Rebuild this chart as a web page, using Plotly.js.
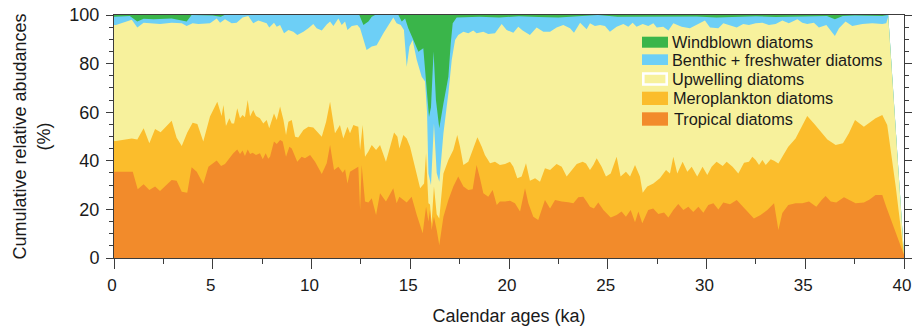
<!DOCTYPE html>
<html>
<head>
<meta charset="utf-8">
<script src="https://cdn.plot.ly/plotly-3.0.1.min.js"></script>
<style>html,body{margin:0;padding:0;background:#fff;}#chart{width:912px;height:332px;}</style>
</head>
<body>
<div id="chart"></div>
<script>
// Series names (legend order, top to bottom)
const seriesNames = ["Windblown diatoms", "Benthic + freshwater diatoms", "Upwelling diatoms", "Meroplankton diatoms", "Tropical diatoms"];
const seriesColors = ["#3AB54A", "#6DCFF6", "#F7F19C", "#FBBD2C", "#F28B2B"];

// Tick values / labels
const xTickVals = [0, 5, 10, 15, 20, 25, 30, 35, 40];
const xTickText = ["0", "5", "10", "15", "20", "25", "30", "35", "40"];
const yTickVals = [0, 20, 40, 60, 80, 100];
const yTickText = ["0", "20", "40", "60", "80", "100"];

// Cumulative upper boundary of each band (%), against calendar age (ka)
const ageWind = [0, 39.2, 40];
const cumWind = [100, 100, 1.2];

const ageBenthic = [0,0.8,1.18,1.5,2.0,2.92,3.68,3.93,5.0,5.4,5.6,12.35,12.42,12.63,12.88,13.05,13.22,14.4,14.57,14.74,14.9,15.16,15.41,15.66,15.83,15.95,16.05,16.18,16.3,16.47,16.68,16.93,17.05,17.15,17.35,18.5,19.5,20.5,21.5,22.5,23.5,24.5,25.5,26.5,27.5,28.5,29.5,30.5,31.5,32.5,33.5,34.5,35.5,36.1,36.5,36.9,37.5,38.5,38.9,39.2,40];
const cumBenthic = [99.3,99.6,97.3,98.5,98.3,98.6,97.3,100,99.8,99.3,100,100,100,95.9,97.3,99.3,100,100,97.3,98.6,94.5,89.7,84.9,86.3,67.8,58,62,85,65,53.4,63.6,74.6,88.3,96.6,99,99.3,99.0,99.5,99.2,99.0,99.5,100,99.3,99.3,99.5,99.2,99.4,99.0,99.3,99.5,99.2,99.4,99.6,99.6,98.2,99.6,99.8,99.5,99.6,100,1.2];

const ageUpwelling = [0,0.1,0.9,1.18,1.5,2.0,2.33,2.92,3.43,3.68,3.98,4.27,4.86,5.2,5.37,5.62,5.96,6.21,6.51,6.8,7.05,7.31,7.73,7.86,8.1,8.24,8.41,8.61,8.83,9.08,9.28,9.59,9.84,10.09,10.26,10.52,10.77,10.94,11.11,11.36,11.53,11.7,11.82,12.04,12.32,12.46,12.63,12.79,13.05,13.3,13.64,13.89,14.14,14.31,14.52,14.68,14.82,14.96,15.12,15.33,15.58,15.75,15.85,15.92,16.05,16.2,16.34,16.47,16.68,16.93,17.1,17.27,17.43,17.69,17.94,18.19,18.36,18.7,18.95,19.29,19.63,19.88,20.22,20.47,20.69,21.06,21.4,21.74,22.08,22.41,22.75,23.09,23.29,23.6,23.93,24.1,24.35,24.61,24.86,25.11,25.45,25.79,26.04,26.26,26.46,26.77,27.05,27.31,27.48,27.81,28.07,28.32,28.74,29.16,29.5,29.92,30.18,30.6,30.85,31.19,31.53,31.86,32.15,32.49,32.83,33.16,33.5,33.84,34.17,34.6,34.85,35.1,35.44,35.69,36.07,36.5,36.71,37.04,37.38,37.89,38.39,38.9,39.1,39.2,40];
const cumUpwelling = [95.9,95.9,98.0,94.9,96.8,96.6,96.3,96.8,96.6,95.5,96.6,96.3,96.6,98.6,96.8,98.2,96.6,96.8,99.0,99.6,96.6,97.7,96.6,94.9,96.8,95.2,95.9,92.5,93.8,93.1,91.8,93.1,94.5,96.3,94.5,93.6,96.1,97.3,95.5,98.6,95.9,97.3,93.8,95.5,95.9,94.5,89.7,85.6,87.0,87.6,92.5,95.9,99.0,96.6,95.9,93.8,78.7,87.0,89.7,81.5,74.6,72.6,60.0,34.8,30.0,55.4,35.0,31.4,51.3,67.8,81.5,89.7,91.8,93.1,92.5,93.6,92.5,93.1,92.2,92.5,96.3,93.8,92.7,95.2,93.6,91.8,94.9,93.1,93.1,94.9,95.9,94.5,92.7,96.8,94.1,96.6,95.5,95.9,95.5,93.1,95.2,96.3,95.2,96.8,95.2,96.3,95.5,96.6,94.9,95.2,93.6,96.6,95.2,94.5,95.9,97.7,94.9,94.5,96.6,95.9,94.9,96.3,95.9,96.6,96.8,95.9,96.3,97.7,96.6,98.2,96.8,96.3,96.8,94.9,95.9,91.4,94.5,97.3,95.5,96.3,96.6,96.3,96.6,99.3,1.2];

const ageMero = [0,0.1,0.9,1.18,1.5,1.79,2.08,2.36,2.92,3.17,3.43,3.71,3.98,4.22,4.52,4.86,5.23,5.45,5.54,5.67,5.84,5.96,6.08,6.24,6.38,6.51,6.63,6.77,6.89,7.05,7.19,7.39,7.56,7.73,7.86,8.1,8.24,8.41,8.58,8.71,8.83,9.0,9.17,9.33,9.59,9.84,10.09,10.26,10.52,10.74,10.94,11.19,11.44,11.61,11.82,11.95,12.12,12.25,12.37,12.46,12.59,12.71,12.88,13.05,13.27,13.47,13.77,13.98,14.18,14.35,14.45,14.65,14.82,14.99,15.16,15.33,15.5,15.7,15.8,15.92,16.0,16.08,16.2,16.34,16.47,16.68,16.93,17.18,17.38,17.52,17.69,17.94,18.16,18.4,18.62,18.78,19.04,19.29,19.54,19.8,20.05,20.22,20.42,20.64,20.86,21.06,21.32,21.57,21.82,22.08,22.41,22.67,22.92,23.17,23.43,23.73,23.9,24.1,24.27,24.44,24.69,24.91,25.15,25.45,25.65,25.92,26.13,26.38,26.63,26.77,27.0,27.31,27.64,27.95,28.15,28.32,28.52,28.79,29.03,29.25,29.53,29.8,30.04,30.26,30.51,30.82,31.02,31.32,31.61,31.9,32.15,32.32,32.49,32.66,32.83,33.0,33.25,33.42,33.64,33.84,34.14,34.51,34.82,35.1,35.44,35.78,36.12,36.54,36.91,37.21,37.52,37.97,38.31,38.56,38.9,39.15,39.58,40];
const cumMero = [48.1,48.1,49.2,48.8,53.4,47.2,53.1,51.7,56.5,49.5,46.1,51.6,55.7,55.1,47.9,58.2,64.3,58.4,63.0,54.3,57.5,55.4,55.4,61.6,57.5,58.8,57.9,65.0,58.2,60.9,58.4,57.5,55.4,56.8,53.4,59.5,56.8,62.3,56.8,50.6,56.1,56.8,49.9,49.6,52.7,54.0,53.7,52.3,49.9,56.1,64.3,51.3,54.7,49.2,54.0,51.3,54.7,54.3,54.0,44.4,54.7,41.7,43.8,46.5,44.4,46.5,39.6,45.8,51.6,49.9,45.1,50.6,49.2,45.8,40.3,34.8,28.7,30.7,43.1,22.5,22.0,14.3,29.4,18.0,16.3,34.8,40.3,44.4,50.6,45.8,38.3,39.6,44.4,49.7,45.8,42.4,39.0,39.6,38.3,38.7,39.6,37.6,32.8,33.5,39.0,31.8,32.8,31.4,36.9,36.2,38.7,37.6,33.5,36.2,38.7,39.6,38.9,36.2,38.3,41.0,37.6,33.5,34.8,41.7,33.5,35.5,33.5,38.3,33.5,26.9,29.4,30.7,32.8,36.2,34.8,41.7,34.8,39.6,35.5,37.6,33.5,37.6,34.2,37.6,39.6,37.9,39.6,37.6,34.8,39.2,39.6,41.7,40.3,38.3,40.3,38.3,40.6,40.0,38.9,41.7,45.8,49.2,54.0,58.4,55.4,52.0,48.8,46.5,47.2,51.3,56.8,54.0,56.1,57.5,58.8,54.7,29.4,1.2];

const ageTropical = [0,0.1,0.95,1.2,1.5,1.79,2.08,2.33,2.92,3.17,3.43,3.71,3.93,4.19,4.52,4.78,5.2,5.42,5.62,6.04,6.24,6.38,6.51,6.63,6.77,6.89,7.02,7.19,7.39,7.53,7.68,7.81,7.9,8.1,8.24,8.41,8.54,8.71,8.88,9.0,9.28,9.5,9.67,9.93,10.18,10.52,10.77,10.94,11.14,11.36,11.58,11.7,11.82,11.95,12.2,12.37,12.46,12.54,12.71,12.88,13.05,13.27,13.47,13.77,14.14,14.31,14.45,14.82,15.07,15.33,15.63,15.8,15.92,16.0,16.08,16.2,16.34,16.47,16.68,16.93,17.18,17.43,17.69,17.94,18.16,18.36,18.53,18.7,18.95,19.17,19.38,19.54,19.8,20.05,20.3,20.56,20.81,20.98,21.23,21.48,21.82,22.08,22.33,22.67,23.0,23.26,23.51,23.76,23.93,24.1,24.3,24.52,24.78,25.15,25.45,25.7,25.92,26.16,26.38,26.55,26.75,27.05,27.3,27.56,27.85,28.07,28.32,28.57,28.83,29.08,29.33,29.59,29.84,30.09,30.35,30.6,30.85,31.19,31.53,31.86,32.1,32.4,32.74,33.08,33.42,33.64,33.84,34.14,34.51,34.85,35.19,35.56,35.83,36.03,36.29,36.57,36.96,37.21,37.55,37.97,38.26,38.56,38.9,39.1,39.58,40];
const cumTropical = [35.5,35.5,35.5,28.3,30.3,28.0,29.4,27.6,32.1,31.8,27.3,26.9,37.3,35.5,30.5,37.6,40.1,37.9,38.7,43.1,44.7,42.8,44.2,42.0,44.7,42.8,43.3,42.4,43.1,40.6,43.1,40.8,41.7,47.9,46.9,48.6,47.9,41.7,45.8,45.1,39.6,41.7,41.0,42.4,39.6,34.6,39.0,46.5,36.2,37.6,35.1,36.5,30.7,35.5,36.6,37.6,19.8,38.3,23.2,22.8,24.6,17.7,26.6,23.2,28.7,22.5,25.2,22.8,25.2,17.7,10.2,21.1,15.0,19.8,11.5,17.0,11.5,5.3,17.0,23.9,29.4,33.5,29.4,28.0,28.3,38.3,32.8,26.6,25.2,28.0,21.8,23.2,23.2,23.6,22.5,19.1,28.7,22.5,17.0,15.6,23.9,20.4,23.9,23.2,22.9,22.5,25.0,25.2,23.2,21.1,20.4,22.8,19.8,16.7,17.7,19.1,17.0,19.8,14.7,19.1,14.3,19.8,20.4,18.1,18.7,16.7,19.8,22.2,19.8,21.1,18.9,21.1,18.6,21.8,22.5,20.0,22.8,22.1,23.9,21.1,19.0,16.3,17.7,19.8,22.5,11.5,18.5,21.8,22.5,22.5,23.2,21.1,23.9,25.5,23.2,22.8,25.0,23.9,22.5,22.8,24.1,25.9,25.9,21.1,10.8,1.2];

const ages = [ageWind, ageBenthic, ageUpwelling, ageMero, ageTropical];
const cums = [cumWind, cumBenthic, cumUpwelling, cumMero, cumTropical];

// Each band's top boundary is filled down to zero, drawn from the top band to the bottom band
const traces = ages.map((a, i) => ({
  type: 'scatter', mode: 'lines', x: a, y: cums[i], name: seriesNames[i],
  fill: 'tozeroy', fillcolor: seriesColors[i],
  line: {width: 0, color: seriesColors[i]}, showlegend: false, hoverinfo: 'skip'
}));

// Plot area geometry in pixels (for legend placement)
const W = 912, H = 332, L = 114, R = 8, T = 15, B = 74;
const pw = W - L - R, ph = H - T - B;
const px = v => (v - L) / pw;
const py = v => (H - B - v) / ph;

const legendRows = [
  {y0: 36.7, y1: 47.7, ty: 42.0, tx: 670},
  {y0: 54.3, y1: 65.0, ty: 59.8, tx: 670},
  {y0: 73.5, y1: 84.5, ty: 79.2, tx: 670},
  {y0: 91.7, y1: 105.0, ty: 98.4, tx: 671},
  {y0: 112.3, y1: 125.7, ty: 119.0, tx: 672}
];
const shapes = [], annotations = [];
legendRows.forEach((r, i) => {
  const isUp = i === 2;
  shapes.push({type: 'rect', xref: 'paper', yref: 'paper', layer: 'above',
    x0: px(isUp ? 643.3 : 642), x1: px(isUp ? 666.7 : 668), y0: py(r.y1), y1: py(r.y0),
    fillcolor: seriesColors[i], line: {width: isUp ? 2.6 : 0, color: '#ffffff'}});
  annotations.push({xref: 'paper', yref: 'paper', x: px(r.tx), y: py(r.ty), xanchor: 'left', yanchor: 'middle',
    text: seriesNames[i], showarrow: false, font: {size: 16.3, color: '#1a1a1a'}});
});

const axisColor = '#3c3c3c';
const layout = {
  width: W, height: H,
  margin: {l: L, r: R, t: T, b: B},
  paper_bgcolor: '#ffffff', plot_bgcolor: '#ffffff',
  font: {family: 'Liberation Sans, Arial, sans-serif', color: '#1a1a1a'},
  showlegend: false,
  xaxis: {
    range: [0, 40], tickmode: 'array', tickvals: xTickVals, ticktext: xTickText,
    ticks: 'outside', ticklen: 10, tickwidth: 1, tickcolor: axisColor,
    ticklabeloverflow: 'allow', ticklabelshift: -2, ticklabelstandoff: 2,
    showline: true, linecolor: axisColor, linewidth: 1, mirror: true, showgrid: false, zeroline: false,
    minor: {dtick: 2.5, tick0: 0, ticks: 'outside', ticklen: 5, tickwidth: 1, tickcolor: axisColor, showgrid: false},
    tickfont: {size: 17}, fixedrange: true,
    title: {text: 'Calendar ages (ka)', font: {size: 18}, standoff: 14}
  },
  yaxis: {
    range: [0, 100], tickmode: 'array', tickvals: yTickVals, ticktext: yTickText,
    ticks: 'outside', ticklen: 7, tickwidth: 1, tickcolor: axisColor, ticklabelstandoff: 3,
    showline: true, linecolor: axisColor, linewidth: 1, mirror: 'ticks', showgrid: false, zeroline: false,
    minor: {dtick: 5, tick0: 0, ticks: 'outside', ticklen: 4, tickwidth: 1, tickcolor: axisColor, showgrid: false},
    tickfont: {size: 18}, fixedrange: true,
    title: {text: 'Cumulative relative abudances<br>(%)', font: {size: 18}, standoff: 14}
  },
  shapes: shapes,
  annotations: annotations
};

Plotly.newPlot('chart', traces, layout, {staticPlot: true, displayModeBar: false});
</script>
</body>
</html>
